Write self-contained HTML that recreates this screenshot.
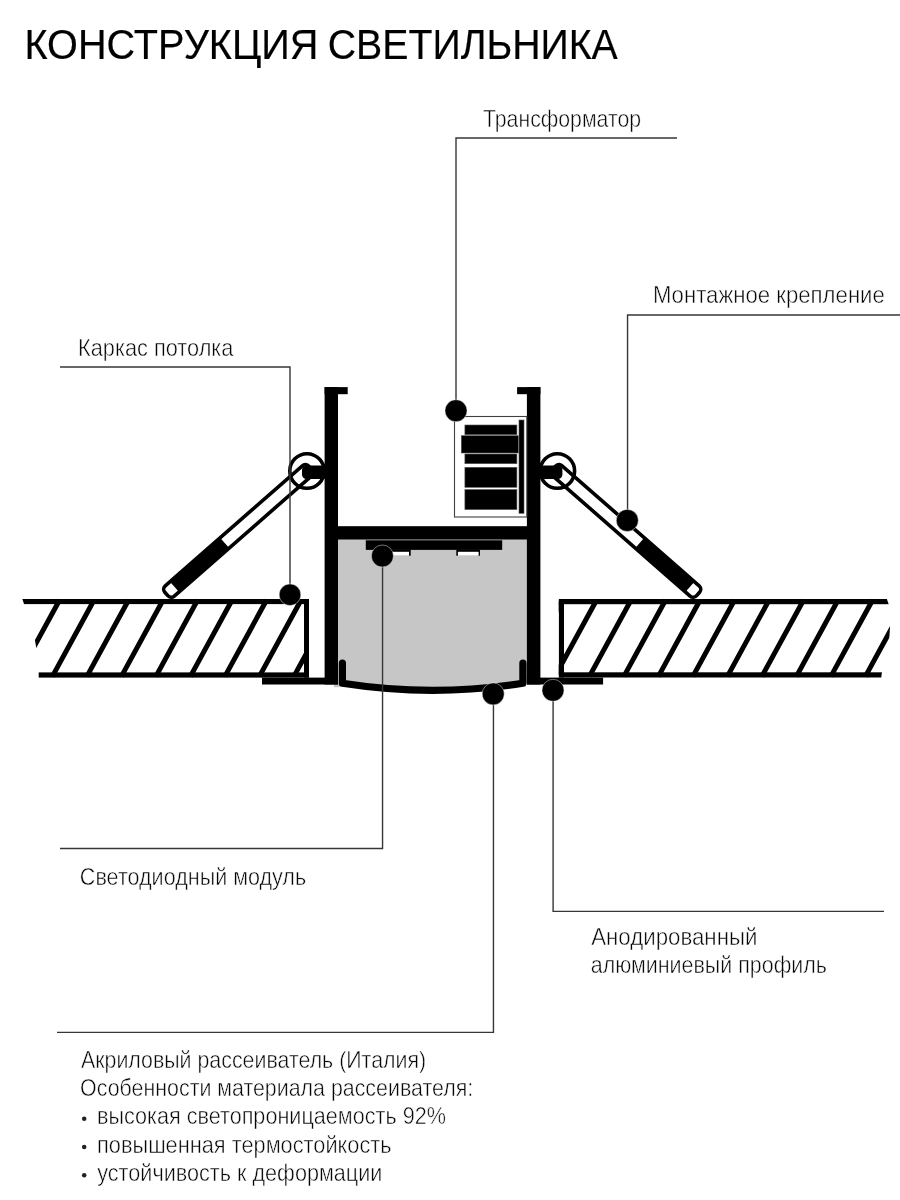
<!DOCTYPE html>
<html lang="ru">
<head>
<meta charset="utf-8">
<title>Конструкция светильника</title>
<style>
html,body{margin:0;padding:0;background:#fff;}
body{width:900px;height:1200px;overflow:hidden;position:relative;font-family:"Liberation Sans",sans-serif;}
svg{position:absolute;left:0;top:0;display:block;will-change:transform;transform:translateZ(0);}
text{font-family:"Liberation Sans",sans-serif;}
.ttl{font-size:43.2px;fill:#000;stroke:#000;stroke-width:0.2px;}
.lbl{font-size:23.2px;fill:#050505;stroke:#fff;stroke-width:0.5px;paint-order:fill stroke;}
.ld{stroke:#343834;stroke-width:1.4;fill:none;}
</style>
</head>
<body>
<svg width="900" height="1200" viewBox="0 0 900 1200">
<defs>
  <clipPath id="clipL"><polygon points="22,598 25,607 35,640.5 36.3,648 38.7,672 38.7,679 309,679 309,598"/></clipPath>
  <clipPath id="clipR"><polygon points="558.7,598 886.5,598 888.7,604.3 890,627 889,643 882,672 881,679 558.7,679"/></clipPath>
  <g id="arm">
    <g transform="translate(307,470.8) rotate(138.8)">
      <rect x="-4.4" y="-6.85" width="191.4" height="13.7" rx="4.6" ry="4.6" fill="#fff" stroke="#000" stroke-width="3.6"/>
      <rect x="109.5" y="-6.85" width="66.6" height="13.7" fill="#000"/>
    </g>
    <circle cx="307" cy="471" r="17.2" fill="none" stroke="#000" stroke-width="3.6"/>
    <rect x="302" y="465.6" width="26" height="13.4" rx="4.5" ry="4.5" fill="#000"/>
  </g>
</defs>

<!-- ceiling slabs -->
<g clip-path="url(#clipL)">
  <g stroke="#000" stroke-width="5" fill="none">
    <path d="M17.9,676.4 L59.6,600.0 M52.4,676.4 L94.1,600.0 M86.9,676.4 L128.6,600.0 M121.4,676.4 L163.1,600.0 M155.9,676.4 L197.6,600.0 M190.4,676.4 L232.1,600.0 M224.9,676.4 L266.6,600.0 M259.4,676.4 L301.1,600.0 M293.9,676.4 L335.6,600.0"/>
  </g>
  <rect x="0" y="599" width="309" height="5.1" fill="#000"/>
  <rect x="0" y="672.4" width="309" height="5.2" fill="#000"/>
  <rect x="304" y="599" width="5" height="78.6" fill="#000"/>
</g>
<g clip-path="url(#clipR)">
  <g stroke="#000" stroke-width="5" fill="none">
    <path d="M520.4,676.4 L562.1,600.0 M554.9,676.4 L596.6,600.0 M589.4,676.4 L631.1,600.0 M623.9,676.4 L665.6,600.0 M658.4,676.4 L700.1,600.0 M692.9,676.4 L734.6,600.0 M727.4,676.4 L769.1,600.0 M761.9,676.4 L803.6,600.0 M796.4,676.4 L838.1,600.0 M830.9,676.4 L872.6,600.0 M865.4,676.4 L907.1,600.0 M899.9,676.4 L941.6,600.0"/>
  </g>
  <rect x="558.7" y="599" width="341.3" height="5.2" fill="#000"/>
  <rect x="558.7" y="672.3" width="341.3" height="5.2" fill="#000"/>
  <rect x="558.7" y="599" width="5.3" height="78.5" fill="#000"/>
</g>

<!-- light chamber -->
<rect x="334" y="680" width="6" height="7.2" fill="#c6c6c6"/>
<path d="M336,538 H529 V683.3 L522.9,683.3 A584 584 0 0 1 342.4,683.3 L336,683.3 Z" fill="#c6c6c6"/>

<!-- LED module -->
<rect x="365.8" y="540.3" width="136.4" height="9.6" fill="#000"/>
<rect x="387.3" y="549.5" width="23.4" height="6.2" fill="#000"/>
<rect x="388.8" y="551.8" width="20.2" height="4" fill="#fff"/>
<rect x="456.3" y="549.5" width="23.7" height="6.2" fill="#000"/>
<rect x="457.9" y="551.8" width="20.7" height="4" fill="#fff"/>

<!-- arms -->
<use href="#arm"/>
<use href="#arm" transform="translate(864.4,0) scale(-1,1)"/>

<!-- aluminium profile -->
<g fill="#000">
  <rect x="324.6" y="387.1" width="13.4" height="297.4"/>
  <rect x="324.6" y="387.1" width="23.1" height="7.1"/>
  <rect x="526.9" y="387.1" width="13.5" height="297.4"/>
  <rect x="517.1" y="387.1" width="23.3" height="7.1"/>
  <rect x="330" y="526.2" width="205" height="13.3"/>
  <rect x="262" y="677.6" width="76" height="6.9"/>
  <rect x="526.9" y="677.6" width="76.2" height="6.9"/>
</g>

<!-- diffuser -->
<path d="M342.4,663.2 L342.4,683.3 A584 584 0 0 0 522.9,683.3 L522.9,663.2" fill="none" stroke="#000" stroke-width="7.2" stroke-linecap="round" stroke-linejoin="round"/>

<!-- transformer -->
<rect x="454.5" y="416.5" width="72.3" height="100.5" fill="#fff" stroke="#3e423e" stroke-width="1.1"/>
<g fill="#000" stroke="#555" stroke-width="0.6">
  <rect x="464.9" y="425" width="52" height="9.7"/>
  <rect x="464.9" y="454" width="52" height="9.7"/>
  <rect x="461.3" y="435.7" width="57" height="17.3"/>
  <rect x="464.9" y="467.3" width="52" height="20"/>
  <rect x="464.9" y="489.6" width="52" height="20"/>
  <rect x="519" y="420" width="5" height="93.3"/>
</g>

<!-- leader lines -->
<g class="ld">
  <polyline points="677,138.05 456,138.05 456,411"/>
  <polyline points="900,315 627.55,315 627.55,520"/>
  <polyline points="60,367.05 290,367.05 290,595"/>
  <polyline points="60,848.5 382.55,848.5 382.55,556"/>
  <polyline points="884,911.4 553.1,911.4 553.1,690"/>
  <polyline points="57,1032.4 493.45,1032.4 493.45,694"/>
</g>

<!-- dots -->
<g fill="#000" stroke="#fff" stroke-opacity="0.75" stroke-width="0.6">
  <circle cx="456" cy="410.7" r="11"/>
  <circle cx="627.3" cy="520.4" r="11"/>
  <circle cx="290" cy="594.7" r="10.8"/>
  <circle cx="382.4" cy="556" r="11"/>
  <circle cx="493.2" cy="693.9" r="11"/>
  <circle cx="553" cy="690.3" r="11"/>
</g>

<!-- text -->
<text class="ttl" x="24.44" y="58.9" textLength="293.92" lengthAdjust="spacingAndGlyphs">КОНСТРУКЦИЯ</text>
<text class="ttl" x="327.78" y="58.9" textLength="290.05" lengthAdjust="spacingAndGlyphs">СВЕТИЛЬНИКА</text>
<text class="lbl" x="482.92" y="126.7" textLength="158.23" lengthAdjust="spacingAndGlyphs">Трансформатор</text>
<text class="lbl" x="652.89" y="303.3" textLength="231.95" lengthAdjust="spacingAndGlyphs">Монтажное крепление</text>
<text class="lbl" x="78.02" y="356.4" textLength="155.44" lengthAdjust="spacingAndGlyphs">Каркас потолка</text>
<text class="lbl" x="79.83" y="884.5" textLength="226.36" lengthAdjust="spacingAndGlyphs">Светодиодный модуль</text>
<text class="lbl" x="591.22" y="944.8" textLength="166.17" lengthAdjust="spacingAndGlyphs">Анодированный</text>
<text class="lbl" x="590.75" y="973.4" textLength="236.20" lengthAdjust="spacingAndGlyphs">алюминиевый профиль</text>
<text class="lbl" x="80.95" y="1067.5" textLength="345.19" lengthAdjust="spacingAndGlyphs">Акриловый рассеиватель (Италия)</text>
<text class="lbl" x="80.09" y="1096.2" textLength="393.09" lengthAdjust="spacingAndGlyphs">Особенности материала рассеивателя:</text>
<text class="lbl" x="96.93" y="1124.4" textLength="349.00" lengthAdjust="spacingAndGlyphs">высокая светопроницаемость 92%</text>
<text class="lbl" x="97.04" y="1152.8" textLength="294.64" lengthAdjust="spacingAndGlyphs">повышенная термостойкость</text>
<text class="lbl" x="97.24" y="1181.2" textLength="285.15" lengthAdjust="spacingAndGlyphs">устойчивость к деформации</text>
<g fill="#222">
  <circle cx="84.2" cy="1118.7" r="2.25"/>
  <circle cx="84.2" cy="1147" r="2.25"/>
  <circle cx="84.2" cy="1175.3" r="2.25"/>
</g>
</svg>
</body>
</html>
